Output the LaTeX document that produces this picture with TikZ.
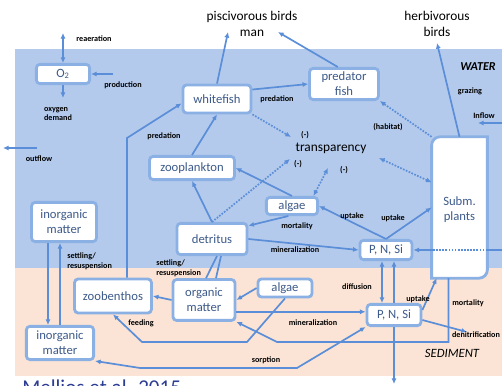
\documentclass[tikz,border=0pt]{standalone}
\usepackage{fontspec}
\setmainfont{Carlito}
\usetikzlibrary{arrows.meta,calc}
\definecolor{waterbg}{HTML}{B4CAEC}
\definecolor{sedbg}{HTML}{FBE4D5}
\definecolor{boxc}{HTML}{8AB0E4}
\definecolor{linec}{HTML}{5A8ED8}
\definecolor{boxtext}{HTML}{3D5A8A}
\definecolor{citec}{HTML}{2E3D94}
\tikzset{
  >={Latex[length=4pt,width=3.6pt]},
  box/.style={draw=boxc, line width=2pt, fill=white, rounded corners=2.5pt,
    text=boxtext, font=\fontsize{9}{10.8}\selectfont, align=center, inner sep=0pt},
  boxtxt/.style={text=boxtext, font=\fontsize{9}{10.8}\selectfont, align=center, inner sep=0pt},
  conn/.style={draw=linec, line width=1.2pt},
  dots/.style={conn, densely dotted},
  lab/.style={text=black, font=\fontsize{5.8}{7}\selectfont\bfseries, align=center, inner sep=0pt},
  biglab/.style={text=black, font=\fontsize{9.5}{11.3}\selectfont, align=center, inner sep=0pt},
  zone/.style={text=black, font=\fontsize{9}{10}\selectfont\itshape, inner sep=0pt},
}

\begin{document}
\begin{tikzpicture}[x=0.025cm, y=-0.025cm]
  \useasboundingbox (0,0) rectangle (502,386);
  \clip (0,0) rectangle (502,386);

  % water column and sediment
  \fill[waterbg] (15,49) rectangle (502,268);
  \fill[sedbg] (15,268) rectangle (502,376);

  % compartments in the water
  \node[box, minimum width=1.33cm, minimum height=0.48cm] (o2) at (63,74) {O\textsubscript{2}};
  \node[box, minimum width=1.7cm, minimum height=0.7cm] (whitefish) at (217,99) {whitefish};
  \node[box, minimum width=1.72cm, minimum height=0.78cm] (pfish) at (344,84) {predator\\fish};
  \node[box, minimum width=2.12cm, minimum height=0.58cm] (zoopl) at (192,168) {zooplankton};
  \node[box, minimum width=1.28cm, minimum height=0.43cm] (algaeW) at (292,206) {algae};
  \node[box, minimum width=1.75cm, minimum height=0.78cm] (detritus) at (212,239) {detritus};
  \node[box, minimum width=1.3cm, minimum height=0.48cm] (pnsU) at (386,250) {P, N, Si};
  \node[box, minimum width=1.62cm, minimum height=0.98cm] (inorgW) at (64,222) {inorganic\\matter};

  % submerged plants (round diagonal corners)
  \node[minimum width=1.38cm, minimum height=3.52cm, inner sep=0pt] (plants) at (459.5,207.5) {};
  \draw[draw=boxc, line width=2pt, fill=white] (plants.north east)
    -- ([yshift=6pt]plants.south east) arc[start angle=0, end angle=-90, radius=6pt]
    -- (plants.south west)
    -- ([yshift=-6pt]plants.north west) arc[start angle=180, end angle=90, radius=6pt]
    -- cycle;
  \node[boxtxt] at (459.5,210) {Subm.\\plants};

  % compartments in the sediment
  \node[box, minimum width=1.68cm, minimum height=0.83cm] (inorgS) at (60,343) {inorganic\\matter};
  \node[box, minimum width=1.92cm, minimum height=0.85cm] (zoob) at (113,296) {zoobenthos};
  \node[box, minimum width=1.55cm, minimum height=1.02cm] (omat) at (204,300) {organic\\matter};
  \node[box, minimum width=1.35cm, minimum height=0.45cm] (algaeS) at (285,288) {algae};
  \node[box, minimum width=1.35cm, minimum height=0.53cm] (pnsL) at (394,315) {P, N, Si};

  % outside sinks and sources
  \node[biglab] (pbirds) at (252,24) {piscivorous birds\\man};
  \node[biglab] (hbirds) at (437,24) {herbivorous\\birds};
  \node[biglab] (transp) at (331,148) {transparency};
  \coordinate (rea) at (63,33);
  \coordinate (prod) at (113,74);
  \coordinate (odem) at (63,98);
  \coordinate (outR) at (37,148);
  \coordinate (outL) at (3,148);
  \coordinate (pbird) at (228,32);
  \coordinate (pman) at (278,32);
  \coordinate (hbird) at (437,43);
  \coordinate (inR) at (502,123);
  \coordinate (inL) at (478,123);
  \coordinate (pnsIn) at (502,250);
  \coordinate (pbend) at (127,138);
  \coordinate (tA) at (291,137);
  \coordinate (tB) at (290,159);
  \coordinate (tC) at (328,168);
  \coordinate (tD) at (379,158);
  \coordinate (fA) at (247,342);
  \coordinate (fB) at (142,342);
  \coordinate (mB) at (277,342);
  \coordinate (sA) at (297,368);
  \coordinate (sB) at (140,368);
  \coordinate (pbot) at (394,384);
  \coordinate (denit) at (467,332);

  % oxygen
  \draw[conn,<->] (rea) -- (o2.north);
  \draw[conn,->] (prod) -- (o2.east);
  \draw[conn,->] (o2.south) -- (odem);
  \draw[conn,->] (outR) -- (outL);

  % food web in the water
  \draw[conn,->] (whitefish.north) -- (pbird);
  \draw[conn,->] (pfish.110) -- (pman);
  \draw[conn,->] (whitefish.15) -- (pfish.west);
  \draw[conn,->] ($(zoob.north)+(14,0)$) -- (pbend) -- (whitefish.187);
  \draw[conn,->] (zoopl.north) -- (whitefish.south);
  \draw[conn,->] (algaeW.north) -- (zoopl.east);
  \draw[conn,->] (algaeW.250) -- (detritus.20);
  \draw[conn,->] (detritus.north) -- (zoopl.south);
  \draw[conn,->] (detritus.east) -- (pnsU.west);
  \draw[conn,->] (pnsU.north) -- (algaeW.east);
  \draw[conn,->] (pnsU.north) -- (plants.west);
  \draw[conn,->] (plants.north) -- (hbird);
  \draw[conn,->] (inR) -- (inL);
  \draw[conn] (pnsIn) -- (pnsIn -| plants.east);
  \draw[dots] (pnsIn -| plants.east) -- (pnsIn -| plants.west);
  \draw[conn,->] (pnsIn -| plants.west) -- (pnsU.east);

  % effects on transparency
  \draw[dots,->] (whitefish.south east) -- (tA);
  \draw[dots,->] (detritus.north) -- (tB);
  \draw[dots,<->] (algaeW.25) -- (tC);
  \draw[dots,<->] (plants.138) -- (tD);
  \draw[dots,->] (plants.north west) -- (pfish.south east);

  % settling and resuspension
  \draw[conn,->] ($(inorgW.south)+(-16,0)$) -- ($(inorgS.north)+(-12,0)$);
  \draw[conn,<-] ($(inorgW.south)+(-4,0)$) -- (inorgS.north);
  \draw[conn] ($(detritus.south)+(5,0)$) -- ($(omat.north)+(2,0)$);
  \draw[conn] ($(detritus.south)+(9,0)$) -- ($(omat.north)+(12,0)$);

  % sediment processes
  \draw[conn,->] (omat.west) -- (zoob.east);
  \draw[conn,->] (algaeS.west) -- (omat.east);
  \draw[conn,->] (algaeS.south) -- (fA) -- (fB) -- (zoob.south);
  \draw[conn,->] (omat.-20) -- (omat.-20 -| pnsL.west);
  \draw[conn,->] ($(plants.south)+(-11,0)$) |- (mB) -- (omat.south east);
  \draw[conn,<->] (pnsL.south west) -- (sA) -- (sB) -- (inorgS.south east);
  \draw[conn,<->] ($(pnsU.south)+(-4,0)$) -- ($(pnsL.north)+(-12,0)$);
  \draw[conn,<-] ($(pnsU.south)+(8,0)$) -- (pnsL.north);
  \draw[conn,->] (pnsL.south) -- (pbot);
  \draw[conn,->] (pnsL.10) -- ($(plants.south west)+(5,0)$);
  \draw[conn,->] (pnsL.-10) -- (denit);

  % labels
  \node[lab] (lrea) at (94,39) {reaeration};
  \node[lab] (lprod) at (123,85) {production};
  \node[lab, align=left] (lodem) at (58,114) {oxygen\\demand};
  \node[lab] (lout) at (39,159) {outflow};
  \node[lab] (lpred1) at (277,99) {predation};
  \node[lab] (lpred2) at (164,136) {predation};
  \node[zone, font=\fontsize{8.6}{10}\selectfont\bfseries\itshape] (lwater) at (478,67) {WATER};
  \node[lab] (lgraz) at (470,91) {grazing};
  \node[lab] (lin) at (484,116) {Inflow};
  \node[lab] (lhab) at (388,127) {(habitat)};
  \node[lab] (lm1) at (305,135) {(-)};
  \node[lab] (lm2) at (298,164) {(-)};
  \node[lab] (lm3) at (344,170) {(-)};
  \node[lab] (lmort1) at (297,226) {mortality};
  \node[lab] (lup1) at (352,216) {uptake};
  \node[lab] (lup2) at (393,218) {uptake};
  \node[lab] (lmin1) at (295,250) {mineralization};
  \node[lab, align=left, anchor=west] (lset1) at (67,261) {settling/\\resuspension};
  \node[lab, align=left, anchor=west] (lset2) at (156,268) {settling/\\resuspension};
  \node[lab] (lfeed) at (141,323) {feeding};
  \node[lab] (lmin2) at (313,323) {mineralization};
  \node[lab] (lsorp) at (266,360) {sorption};
  \node[lab] (ldiff) at (357,287) {diffusion};
  \node[lab] (lup3) at (418,299) {uptake};
  \node[lab] (lmort2) at (468,303) {mortality};
  \node[lab] (ldenit) at (476,335) {denitrification};
  \node[zone] (lsed) at (452,353) {SEDIMENT};
  \node[text=citec, font=\fontsize{15}{17}\selectfont, anchor=base west, inner sep=0pt] (cite) at (22,395) {Mellios et al. 2015};
\end{tikzpicture}
\end{document}
